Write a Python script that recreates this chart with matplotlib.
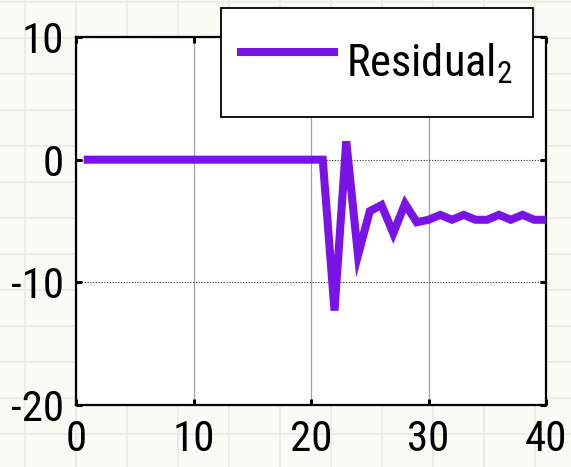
import matplotlib
matplotlib.use("Agg")
import matplotlib.pyplot as plt
from matplotlib import font_manager
from matplotlib.lines import Line2D
import numpy as np

# Residual signal per step
steps = list(range(1, 41))
residual_2 = [0.0] * 21 + [-12.3, 1.5, -7.8, -4.2, -3.7, -6.0, -3.6, -5.1, -4.9,
                           -4.5, -4.9, -4.5, -4.9, -4.9, -4.5, -4.9, -4.5, -4.9, -4.9]
x_ticks = [0, 10, 20, 30, 40]
y_ticks = [-20, -10, 0, 10]
series_label = r"$\mathregular{Residual_2}$"

names = {f.name for f in font_manager.fontManager.ttflist}
family = next(n for n in ("Roboto Condensed", "Liberation Sans") if n in names)
plt.rcParams["font.family"] = [family, "DejaVu Sans"]
plt.rcParams["mathtext.fontset"] = "custom"
plt.rcParams["mathtext.rm"] = family
plt.rcParams["axes.unicode_minus"] = False

W, H = 571, 467
fig = plt.figure(figsize=(W / 100, H / 100), dpi=100)
fig.patch.set_facecolor("#fbfbf6")

# graph-paper backdrop
for px in np.arange(25, W, 51):
    fig.add_artist(Line2D([px / W, px / W], [0, 1], transform=fig.transFigure,
                          color="#ecece4", lw=1.5, zorder=0))
for py in np.arange(2, H, 36):
    fig.add_artist(Line2D([0, 1], [1 - py / H, 1 - py / H], transform=fig.transFigure,
                          color="#ecece4", lw=1.5, zorder=0))

ax = fig.add_axes([76 / W, 1 - 405 / H, (546 - 76) / W, (405 - 37) / H])
ax.set_facecolor("white")

line, = ax.plot(steps, residual_2, color="#7a14e6", lw=5.8, solid_joinstyle="miter",
                label=series_label, zorder=3)

ax.set_xlim(0, 40)
ax.set_ylim(-20, 10)
ax.set_xticks(x_ticks)
ax.set_yticks(y_ticks)

ax.xaxis.grid(True, color="#a0a0a0", lw=0.9, ls="-")
ax.yaxis.grid(True, color="#333333", lw=0.8, ls=(0, (1, 1.5)))
ax.set_axisbelow(True)

for s in ax.spines.values():
    s.set_color("black")
    s.set_linewidth(1.6)

ax.tick_params(which="both", direction="in", length=4, width=2.2, colors="black",
               top=True, right=True, labelsize=31)
ax.tick_params(axis="y", pad=9)
ax.tick_params(axis="x", pad=10)

leg = ax.legend(handles=[line], loc="upper left",
                bbox_to_anchor=(221 / W, 1 - 8 / H), bbox_transform=fig.transFigure,
                fontsize=32, frameon=True, fancybox=False, framealpha=1,
                edgecolor="black", handlelength=2.1, handletextpad=0.26,
                handleheight=2.0, borderpad=0.45, borderaxespad=0)
leg.get_frame().set_linewidth(1.3)
leg.set_zorder(10)

fig.savefig("out.png", dpi=100, facecolor=fig.get_facecolor())
